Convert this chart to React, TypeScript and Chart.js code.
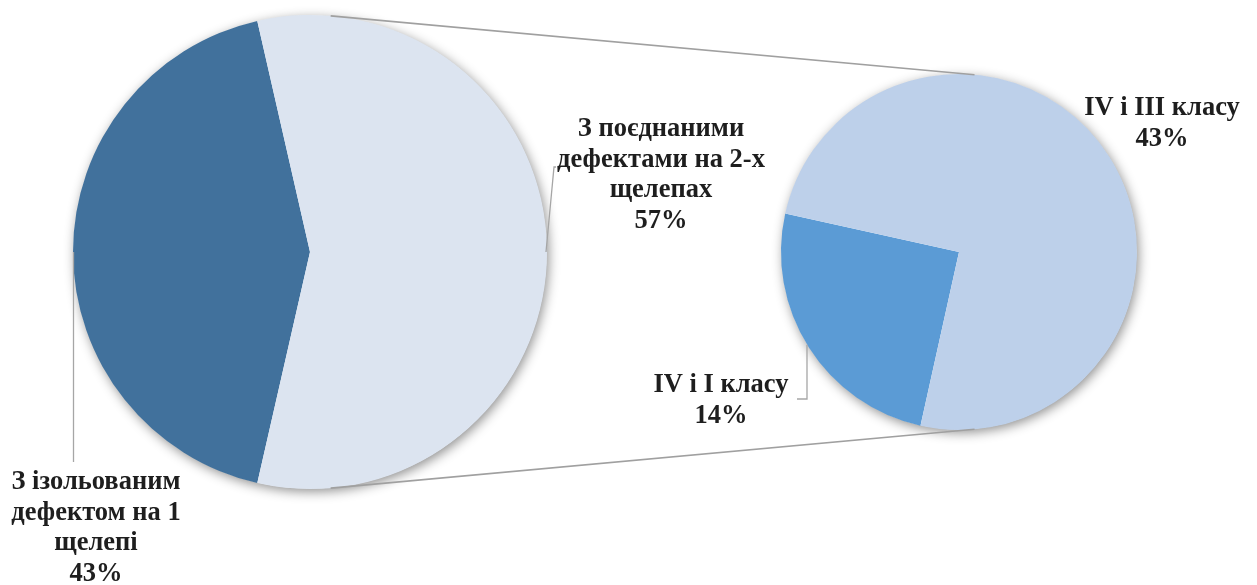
import React, { useEffect, useRef } from "react";
import { Chart, registerables } from "chart.js";

Chart.register(...registerables);

// ---- data ----
const mainCategories: string[][] = [
  ["З ізольованим", "дефектом на 1", "щелепі"],
  ["З поєднаними", "дефектами на 2-х", "щелепах"],
];
const mainValues = [42.86, 57.14];
const subCategories: string[][] = [["IV і I класу"], ["IV і III класу"]];
const subValues = [14.29, 42.86];

// ---- styles ----
const mainColors = ["#41719C", "#DCE4F0"];
const subColors = ["#5B9BD5", "#BDD0EA"];
const W = 1257;
const H = 585;
const FONT = "bold 26.5px 'Liberation Serif', 'Times New Roman', serif";
const LINE_H = 30.5;

const pct = (v: number) => Math.round(v) + "%";

function shadowPlugin(id: string) {
  return {
    id,
    beforeDatasetsDraw(chart: any) {
      const arc = chart.getDatasetMeta(0).data[0] as any;
      if (!arc) return;
      const ctx = chart.ctx;
      ctx.save();
      ctx.shadowColor = "rgba(0,0,0,0.45)";
      ctx.shadowBlur = 12;
      ctx.shadowOffsetX = 2;
      ctx.shadowOffsetY = 3;
      ctx.fillStyle = "#ffffff";
      ctx.beginPath();
      ctx.arc(arc.x, arc.y, arc.outerRadius - 0.5, 0, Math.PI * 2);
      ctx.fill();
      ctx.restore();
    },
  };
}

function drawLabel(ctx: CanvasRenderingContext2D, lines: string[], x: number, y: number) {
  ctx.save();
  ctx.font = FONT;
  ctx.fillStyle = "#1E1E1E";
  ctx.textAlign = "center";
  ctx.textBaseline = "alphabetic";
  lines.forEach((l, i) => ctx.fillText(l, x, y + i * LINE_H));
  ctx.restore();
}

function drawPath(ctx: CanvasRenderingContext2D, pts: number[][], color: string, w: number) {
  ctx.save();
  ctx.strokeStyle = color;
  ctx.lineWidth = w;
  ctx.beginPath();
  pts.forEach((p, i) => (i === 0 ? ctx.moveTo(p[0], p[1]) : ctx.lineTo(p[0], p[1])));
  ctx.stroke();
  ctx.restore();
}

export default function App() {
  const ref1 = useRef<HTMLCanvasElement | null>(null);
  const ref2 = useRef<HTMLCanvasElement | null>(null);

  useEffect(() => {
    if (!ref1.current || !ref2.current) return;

    const mainLabelsPlugin = {
      id: "mainLabels",
      afterDatasetsDraw(chart: any) {
        const arc = chart.getDatasetMeta(0).data[0] as any;
        const cx = arc.x, cy = arc.y, r = arc.outerRadius;
        const ctx = chart.ctx;
        // isolated (dark) slice label, bottom-left
        drawPath(ctx, [[cx - r + 0.5, cy], [cx - r + 0.5, cy + 210]], "#A6A6A6", 1.3);
        drawLabel(ctx, [...mainCategories[0], pct(mainValues[0])], cx - 214, cy + 237);
        // combined (light) slice label, right
        drawPath(ctx, [[cx + r - 1, cy], [cx + r + 7, cy - 85], [cx + r + 9, cy - 85]], "#A6A6A6", 1.3);
        drawLabel(ctx, [...mainCategories[1], pct(mainValues[1])], cx + 351, cy - 116);
      },
    };

    const chart1 = new Chart(ref1.current, {
      type: "pie",
      data: {
        labels: mainCategories,
        datasets: [
          {
            data: mainValues,
            backgroundColor: mainColors,
            borderWidth: 0,
          },
        ],
      },
      options: {
        responsive: false,
        animation: false,
        rotation: 270 - (mainValues[0] / (mainValues[0] + mainValues[1])) * 180,
        layout: { padding: { left: 73, right: W - 547, top: 15, bottom: H - 489 } },
        plugins: { legend: { display: false }, tooltip: { enabled: false } },
      },
      plugins: [shadowPlugin("shadow1"), mainLabelsPlugin],
    });

    const subPlugin = {
      id: "subLabels",
      afterDatasetsDraw(chart: any) {
        const arc = chart.getDatasetMeta(0).data[0] as any;
        const cx = arc.x, cy = arc.y, r = arc.outerRadius;
        const a1 = chart1.getDatasetMeta(0).data[0] as any;
        const ctx = chart.ctx;
        const ang = (5 * Math.PI) / 180;
        // connectors between the pies
        drawPath(
          ctx,
          [
            [a1.x + a1.outerRadius * Math.sin(ang), a1.y - a1.outerRadius * Math.cos(ang)],
            [cx + r * Math.sin(ang), cy - r * Math.cos(ang)],
          ],
          "#A0A0A0",
          1.6
        );
        drawPath(
          ctx,
          [
            [a1.x + a1.outerRadius * Math.sin(ang), a1.y + a1.outerRadius * Math.cos(ang)],
            [cx + r * Math.sin(ang), cy + r * Math.cos(ang)],
          ],
          "#A0A0A0",
          1.6
        );
        // small slice label
        const lx = cx - 152;
        const ly = cy + Math.sqrt(r * r - 152 * 152);
        drawPath(ctx, [[lx, ly], [lx, cy + 147], [lx - 10, cy + 147]], "#A6A6A6", 1.3);
        drawLabel(ctx, [...subCategories[0], pct(subValues[0])], cx - 238, cy + 140);
        // large slice label
        drawLabel(ctx, [...subCategories[1], pct(subValues[1])], cx + 203, cy - 137);
      },
    };

    const chart2 = new Chart(ref2.current, {
      type: "pie",
      data: {
        labels: subCategories,
        datasets: [
          {
            data: subValues,
            backgroundColor: subColors,
            borderWidth: 0,
          },
        ],
      },
      options: {
        responsive: false,
        animation: false,
        rotation: 192.5,
        layout: { padding: { left: 781, right: W - 1137, top: 74, bottom: H - 430 } },
        plugins: { legend: { display: false }, tooltip: { enabled: false } },
      },
      plugins: [shadowPlugin("shadow2"), subPlugin],
    });

    return () => {
      chart2.destroy();
      chart1.destroy();
    };
  }, []);

  const canvasStyle: React.CSSProperties = {
    position: "absolute",
    left: 0,
    top: 0,
    width: W,
    height: H,
  };

  return (
    <div style={{ position: "fixed", left: 0, top: 0, width: W, height: H, background: "#ffffff", overflow: "hidden" }}>
      <canvas ref={ref1} width={W} height={H} style={canvasStyle} />
      <canvas ref={ref2} width={W} height={H} style={canvasStyle} />
    </div>
  );
}
